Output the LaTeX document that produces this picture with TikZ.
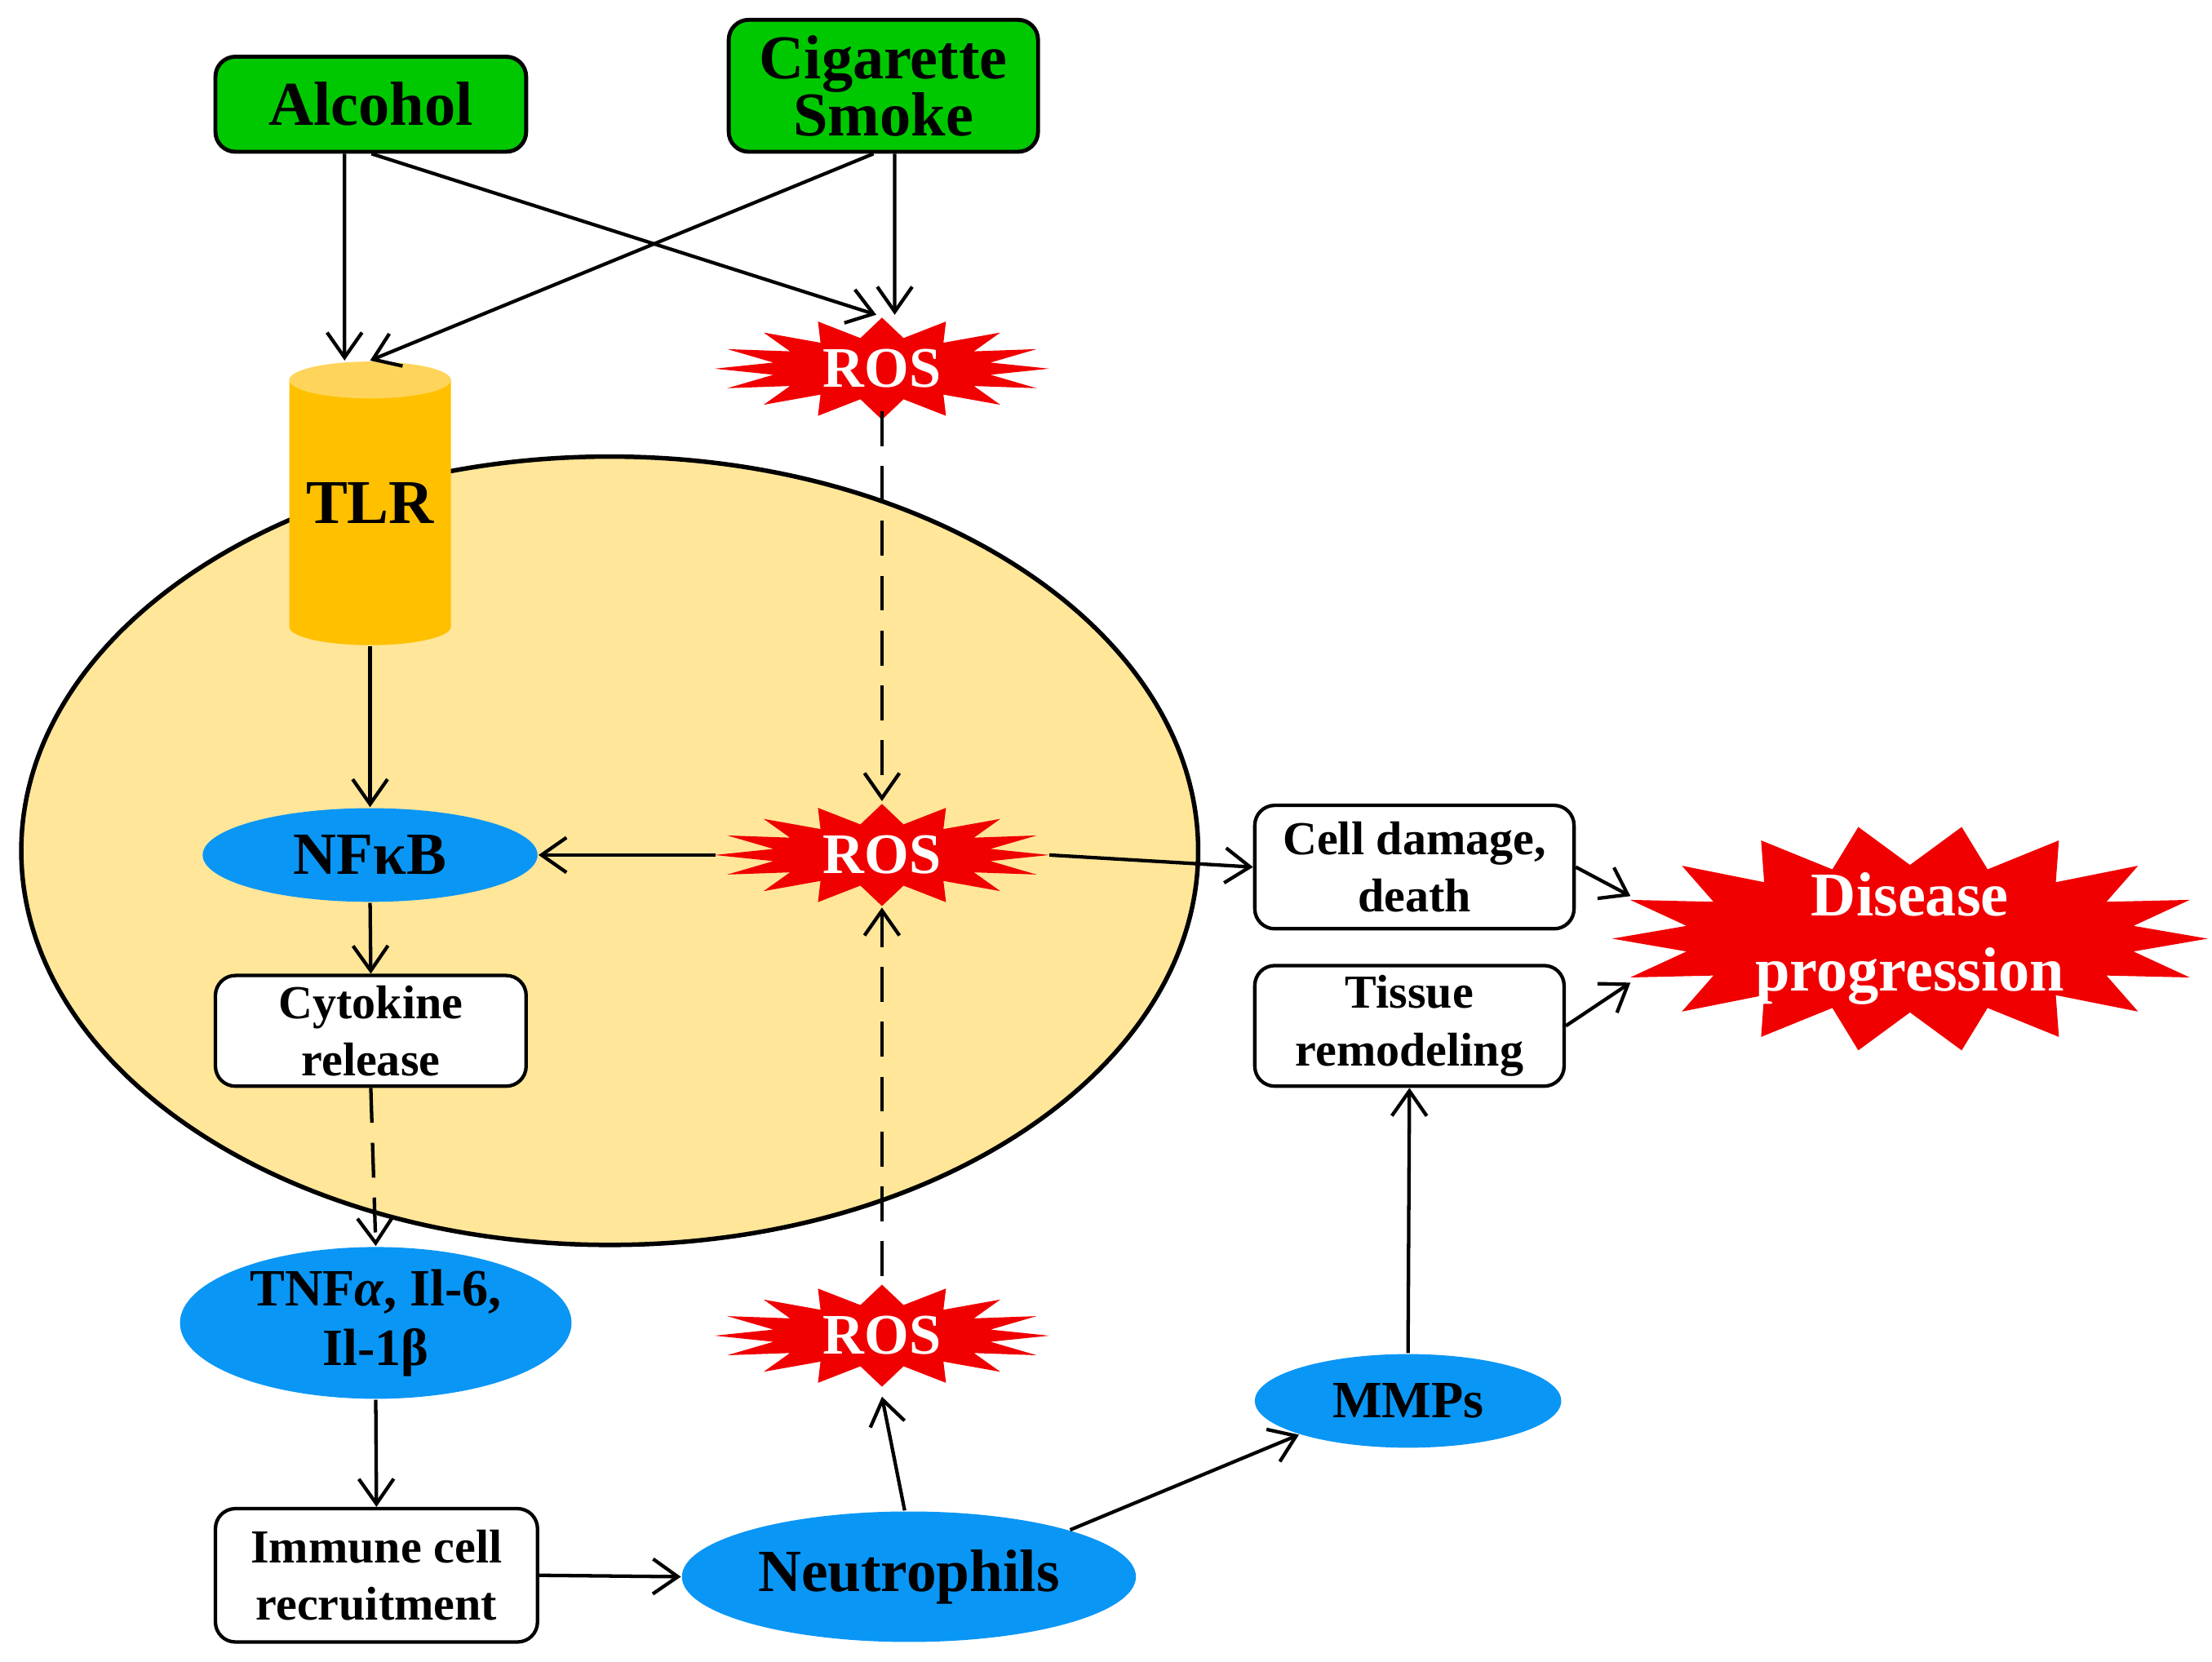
\documentclass[tikz,border=0pt]{standalone}
\usepackage{fontspec}
\setmainfont{Liberation Serif}
\usetikzlibrary{shapes.geometric,arrows.meta}
\definecolor{grn}{RGB}{0,200,0}
\definecolor{cellc}{RGB}{255,230,153}
\definecolor{tlrc}{RGB}{255,192,0}
\definecolor{tlrt}{RGB}{255,212,90}
\definecolor{blu}{RGB}{10,150,245}
\definecolor{rd}{RGB}{240,0,0}
\newcommand{\mkburst}[7]{%
\fill[rd] plot[samples at={0,...,#7}] ({#1+((-1)^\x>0?#3:#5)*cos(\x*180/(#7/2))},{#2+((-1)^\x>0?#4:#6)*sin(\x*180/(#7/2))}) -- cycle;}
\begin{document}
\begin{tikzpicture}[x=0.01cm,y=-0.01cm,
 font=\bfseries,
 gbox/.style={draw=black,line width=0.8pt,rounded corners=4pt,fill=grn,align=center,font=\bfseries\fontsize{12.5}{12.5}\selectfont},
 wbox/.style={draw=black,line width=0.7pt,rounded corners=4pt,fill=white,align=center,font=\bfseries\fontsize{9.5}{11.5}\selectfont},
 bell/.style={ellipse,fill=blu,align=center,inner sep=0pt},
 rosn/.style={ellipse,minimum width=2.2cm,minimum height=0.7cm,text=white,font=\bfseries\fontsize{11.5}{11.5}\selectfont},
 arr/.style={line width=0.7pt,-{Straight Barb[length=5pt,width=7pt]}},
 darr/.style={arr,dash pattern=on 7pt off 4pt}]
\useasboundingbox (0,0) rectangle (1560,1172);
% cell
\draw[fill=cellc,line width=0.9pt] (430,600) ellipse [x radius=415,y radius=278];
% TLR cylinder
\fill[tlrc] (204,268) -- (204,442) arc[start angle=180,end angle=0,x radius=57,y radius=13] -- (318,268) -- cycle;
\fill[tlrt] (261,268) ellipse [x radius=57,y radius=13];
\node[minimum width=1.13cm,minimum height=2.0cm,font=\bfseries\fontsize{12.5}{12.5}\selectfont] (tlr) at (261,355) {TLR};
% boxes
\node[gbox,minimum width=2.19cm,minimum height=0.67cm] (alc) at (261.5,73.5) {Alcohol};
\node[gbox,minimum width=2.18cm,minimum height=0.93cm,inner sep=1pt] (cig) at (623,60.5) {Cigarette\\[-1pt]Smoke};
\node[wbox,minimum width=2.19cm,minimum height=0.78cm,inner sep=1pt] (cyt) at (261.5,727) {Cytokine\\release};
\node[wbox,minimum width=2.27cm,minimum height=0.94cm,inner sep=1pt] (imm) at (265.5,1111) {Immune cell\\recruitment};
\node[wbox,minimum width=2.18cm,minimum height=0.85cm,inner sep=1pt] (tis) at (994,723.5) {Tissue\\remodeling};
\node[wbox,minimum width=2.25cm,minimum height=0.87cm,inner sep=1pt] (cel) at (997.5,611.5) {Cell damage,\\death};
% blue ellipses
\node[bell,minimum width=2.36cm,minimum height=0.66cm,font=\bfseries\fontsize{12}{12}\selectfont] (nfk) at (261,603) {NFκB};
\node[bell,minimum width=2.76cm,minimum height=1.0cm,font=\bfseries\fontsize{10.5}{12}\selectfont] (tnf) at (265,933) {TNF\textit{α}, Il-6,\\Il-1β};
\node[bell,minimum width=3.2cm,minimum height=0.92cm,font=\bfseries\fontsize{12}{12}\selectfont] (neu) at (641,1112) {Neutrophils};
\node[bell,minimum width=2.16cm,minimum height=0.66cm,font=\bfseries\fontsize{10.5}{11}\selectfont] (mmp) at (993,988) {MMPs};
% bursts
\mkburst{622}{260}{118}{36}{78}{22}{32}
\mkburst{622}{603}{118}{36}{78}{22}{32}
\mkburst{622}{942}{118}{36}{78}{22}{32}
\mkburst{1347}{662}{210}{80}{160}{52}{36}
\node[rosn] (ros1) at (622,260) {ROS};
\node[rosn] (ros2) at (622,603) {ROS};
\node[rosn] (ros3) at (622,942) {ROS};
\node[ellipse,minimum width=3.9cm,minimum height=1.3cm,text=white,align=center,font=\bfseries\fontsize{12.5}{15}\selectfont] (dis) at (1347,662) {Disease\\progression};
% arrows
\draw[arr] ([xshift=-0.185cm]alc.south) -- ([xshift=-0.18cm]tlr.north);
\draw[arr] ([xshift=0.005cm]alc.south) -- ([xshift=-0.04cm,yshift=0.38cm]ros1.center);
\draw[arr] ([xshift=-0.07cm]cig.south) -- (tlr.north);
\draw[arr] ([xshift=0.08cm]cig.south) -- ([xshift=0.09cm,yshift=0.38cm]ros1.center);
\draw[darr] ([yshift=-0.3cm]ros1.center) -- ([yshift=0.38cm]ros2.center);
\draw[arr] (tlr.south) -- (nfk.north);
\draw[arr] ([xshift=-1.17cm]ros2.center) -- (nfk.east);
\draw[arr] ([xshift=1.18cm]ros2.center) -- (cel.west);
\draw[arr] (nfk.south) -- (cyt.north);
\draw[darr] (cyt.south) -- (tnf.north);
\draw[arr] (tnf.south) -- (imm.north);
\draw[arr] (imm.east) -- (neu.west);
\draw[arr] ([xshift=-0.03cm]neu.north) -- ([yshift=-0.43cm]ros3.center);
\draw[darr] ([yshift=0.42cm]ros3.center) -- ([yshift=-0.37cm]ros2.center);
\draw[arr] (neu.north east) -- (mmp.south west);
\draw[arr] (mmp.north) -- (tis.south);
\draw[arr] (cel.east) -- ([xshift=-1.97cm,yshift=0.3cm]dis.center);
\draw[arr] (tis.east) -- ([xshift=-1.97cm,yshift=-0.31cm]dis.center);
\end{tikzpicture}
\end{document}
